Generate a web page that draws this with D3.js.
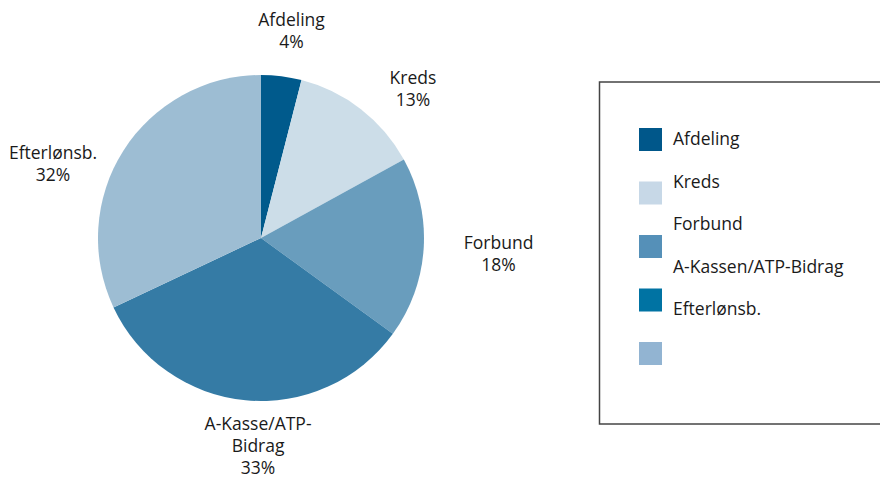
<!DOCTYPE html>
<html>
<head>
<meta charset="utf-8">
<style>
body { margin: 0; background: #fff; }
text { font-family: "Open Sans", sans-serif; fill: #1a1a1a; }
</style>
<script src="https://cdn.jsdelivr.net/npm/d3@7"></script>
</head>
<body>
<svg id="chart" width="880" height="482"></svg>
<script>
// slice data
var categories = ["Afdeling", "Kreds", "Forbund", "A-Kasse/ATP-Bidrag", "Efterlønsb."];
var labelLines = [["Afdeling"], ["Kreds"], ["Forbund"], ["A-Kasse/ATP-", "Bidrag"], ["Efterlønsb."]];
var values = [4, 13, 18, 33, 32];
var sliceColors = ["#005a8c", "#ccdde8", "#699dbd", "#357ba5", "#9dbdd3"];

// legend as drawn in the original (text and swatches do not line up)
var legendText = ["Afdeling", "Kreds", "Forbund", "A-Kassen/ATP-Bidrag", "Efterlønsb."];
var legendColors = ["#00578a", "#c7d8e7", "#5590b8", "#0073a3", "#92b4d2"];

var svg = d3.select("#chart");
var cx = 261, cy = 238, radius = 163;

var pie = d3.pie().sort(null).value(function(d) { return d; });
var arcs = pie(values);
var arc = d3.arc().innerRadius(0).outerRadius(radius);
var labelArc = d3.arc().innerRadius(212).outerRadius(212);

var g = svg.append("g").attr("transform", "translate(" + cx + "," + cy + ")");

g.selectAll("path")
  .data(arcs)
  .enter()
  .append("path")
  .attr("d", arc)
  .attr("fill", function(d, i) { return sliceColors[i]; });

// small nudges so labels sit where the original put them
var nudge = [[4, 3], [22, 18], [26, 3], [17, -3], [-29, 40]];
var lineH = 22;

arcs.forEach(function(d, i) {
  var c = labelArc.centroid(d);
  var lines = labelLines[i].concat([values[i] + "%"]);
  var x = c[0] + nudge[i][0];
  var yc = c[1] + nudge[i][1];
  var top = yc - (lines.length - 1) * lineH / 2;
  var t = g.append("text")
    .attr("text-anchor", "middle")
    .attr("font-size", 17.5);
  lines.forEach(function(s, j) {
    t.append("tspan")
      .attr("x", x)
      .attr("y", top + j * lineH + 6)
      .text(s);
  });
});

// legend
svg.append("rect")
  .attr("x", 599.5).attr("y", 82)
  .attr("width", 300).attr("height", 342)
  .attr("fill", "none")
  .attr("stroke", "#444")
  .attr("stroke-width", 1.5);

var swatchY = d3.scalePoint().domain(d3.range(legendColors.length)).range([128, 342]);
var textY = d3.scalePoint().domain(d3.range(legendText.length)).range([145, 315]);

svg.selectAll("rect.sw")
  .data(legendColors)
  .enter()
  .append("rect")
  .attr("class", "sw")
  .attr("x", 639).attr("width", 23).attr("height", 23)
  .attr("y", function(d, i) { return swatchY(i); })
  .attr("fill", function(d) { return d; });

svg.selectAll("text.lg")
  .data(legendText)
  .enter()
  .append("text")
  .attr("class", "lg")
  .attr("x", 673)
  .attr("y", function(d, i) { return textY(i); })
  .attr("font-size", 17.5)
  .text(function(d) { return d; });
</script>
</body>
</html>
